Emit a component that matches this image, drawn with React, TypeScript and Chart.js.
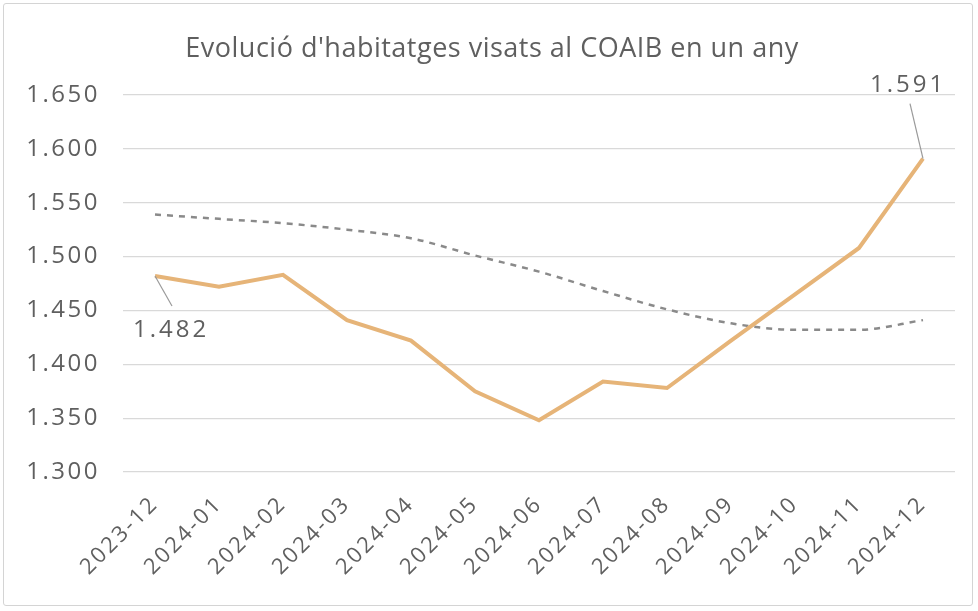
import React, { useEffect, useRef } from "react";
import { Chart, registerables } from "chart.js";

Chart.register(...registerables);

const TITLE = "Evolució d'habitatges visats al COAIB en un any";
const categories = [
  "2023-12", "2024-01", "2024-02", "2024-03", "2024-04", "2024-05", "2024-06",
  "2024-07", "2024-08", "2024-09", "2024-10", "2024-11", "2024-12",
];
const visats = [1482, 1472, 1483, 1441, 1422, 1375, 1348, 1384, 1378, 1422, 1465, 1508, 1591];
const tendencia = [1539, 1535, 1531, 1525, 1517, 1501, 1486, 1468, 1451, 1438, 1432, 1432, 1441];
const yMin = 1300;
const yMax = 1650;
const yStep = 50;

const fmt = (v: number) => {
  const s = Math.round(v).toString();
  return s.replace(/\B(?=(\d{3})+(?!\d))/g, ".");
};

const FONT = "'Open Sans', 'Liberation Sans', sans-serif";
const GREY = "#5f5f5f";

const spacingPlugin = {
  id: "spacing",
  beforeDraw(chart: any) {
    chart.ctx.letterSpacing = "2.5px";
  },
};

const labelPlugin = {
  id: "endLabels",
  afterDatasetsDraw(chart: any) {
    const ctx = chart.ctx;
    const meta = chart.getDatasetMeta(0);
    const first = meta.data[0];
    const last = meta.data[meta.data.length - 1];
    ctx.save();
    ctx.letterSpacing = "3px";
    ctx.strokeStyle = "#9a9a9a";
    ctx.lineWidth = 1.2;
    ctx.fillStyle = GREY;
    ctx.font = `24px ${FONT}`;
    ctx.textAlign = "center";
    ctx.textBaseline = "middle";
    // first
    ctx.beginPath();
    ctx.moveTo(first.x, first.y);
    ctx.lineTo(first.x + 17, first.y + 30);
    ctx.stroke();
    ctx.fillText(fmt(visats[0]), first.x + 16, first.y + 54);
    // last
    ctx.beginPath();
    ctx.moveTo(last.x, last.y);
    ctx.lineTo(last.x - 13, last.y - 55);
    ctx.stroke();
    ctx.fillText(fmt(visats[visats.length - 1]), last.x - 15, last.y - 73);
    ctx.restore();
  },
};

const titlePlugin = {
  id: "customTitle",
  afterDraw(chart: any) {
    const ctx = chart.ctx;
    ctx.save();
    ctx.letterSpacing = "0.5px";
    ctx.fillStyle = GREY;
    ctx.font = `27px ${FONT}`;
    ctx.textAlign = "center";
    ctx.textBaseline = "alphabetic";
    ctx.fillText(TITLE, 492, 57);
    ctx.restore();
  },
};

export default function App() {
  const ref = useRef<HTMLCanvasElement | null>(null);
  useEffect(() => {
    document.body.style.margin = "0";
    const chart = new Chart(ref.current as HTMLCanvasElement, {
      type: "line",
      data: {
        labels: categories,
        datasets: [
          {
            label: "Habitatges visats",
            data: visats,
            borderColor: "#e6b478",
            borderWidth: 4,
            pointRadius: 0,
            tension: 0,
          },
          {
            label: "Tendència",
            data: tendencia,
            borderColor: "#8a8a8a",
            borderWidth: 2.5,
            borderDash: [6, 6],
            pointRadius: 0,
            tension: 0.4,
            cubicInterpolationMode: "monotone",
          },
        ],
      },
      options: {
        animation: false,
        responsive: false,
        layout: { padding: { top: 95, left: 0, right: 23, bottom: 0 } },
        plugins: {
          legend: { display: false },
          title: { display: false },
          tooltip: { enabled: false },
        },
        scales: {
          x: {
            offset: true,
            grid: { display: false, drawTicks: false },
            border: { display: false },
            ticks: {
              minRotation: 45,
              maxRotation: 45,
              padding: 19,
              color: GREY,
              font: { family: FONT, size: 22 },
            },
            afterFit: (s: any) => {
              s.height = 139;
            },
          },
          y: {
            min: yMin,
            max: yMax,
            grid: { color: "#d9d9d9", lineWidth: 1.2, drawTicks: false },
            border: { display: false },
            ticks: {
              stepSize: yStep,
              padding: 23,
              color: GREY,
              font: { family: FONT, size: 24 },
              callback: (v: any) => fmt(Number(v)),
            },
            afterFit: (s: any) => {
              s.width = 123;
            },
          },
        },
      },
      plugins: [spacingPlugin, labelPlugin, titlePlugin],
    });
    return () => chart.destroy();
  }, []);
  return (
    <div style={{ position: "absolute", left: 0, top: 0, width: 978, height: 611, background: "#fff" }}>
      <canvas ref={ref} width={978} height={611} style={{ display: "block" }} />
      <div
        style={{
          position: "absolute",
          left: 3,
          top: 3,
          width: 968,
          height: 601,
          border: "1px solid #d4d4d4",
          borderRadius: 3,
          pointerEvents: "none",
        }}
      />
    </div>
  );
}
